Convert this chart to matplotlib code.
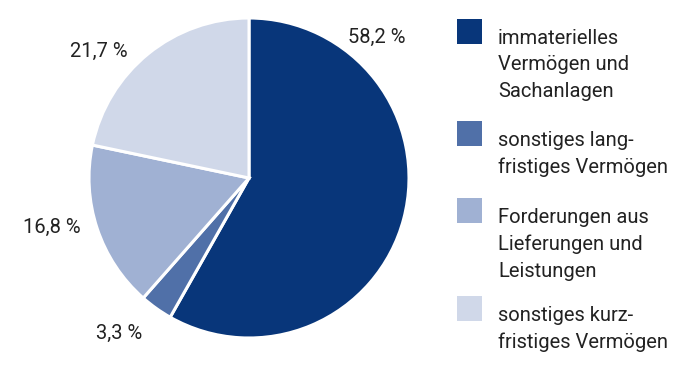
import matplotlib
matplotlib.use("Agg")

import matplotlib.pyplot as plt
from matplotlib.patches import Rectangle

# Data
categories = [
    "immaterielles\nVermögen und\nSachanlagen",
    "sonstiges lang-\nfristiges Vermögen",
    "Forderungen aus\nLieferungen und\nLeistungen",
    "sonstiges kurz-\nfristiges Vermögen",
]
shares = [58.2, 3.3, 16.8, 21.7]
value_labels = ["58,2 %", "3,3 %", "16,8 %", "21,7 %"]
colors = ["#08367a", "#5070a8", "#a0b1d3", "#d0d8e9"]

# Layout (label positions in units of the pie radius)
label_xy = [(0.80, 0.88), (-0.81, -0.97), (-1.23, -0.31), (-0.94, 0.79)]
legend_tops = [19, 121, 198, 296]  # px from top

W, H = 685, 388
plt.rcParams["font.family"] = ["Roboto", "DejaVu Sans"]
text_color = "#222222"
fsize = 14.5

fig = plt.figure(figsize=(W / 100, H / 100), dpi=100)

cx, cy, r = 249, 178, 160
ax = fig.add_axes([(cx - r) / W, (H - cy - r) / H, 2 * r / W, 2 * r / H])
ax.pie(shares, colors=colors, startangle=90, counterclock=False, radius=1,
       wedgeprops=dict(edgecolor="white", linewidth=2.2))
ax.set_xlim(-1, 1)
ax.set_ylim(-1, 1)
ax.set_aspect("auto")
ax.axis("off")

for (x, y), lab in zip(label_xy, value_labels):
    ax.text(x, y, lab, ha="center", va="center", fontsize=fsize,
            color=text_color, clip_on=False)

# Legend drawn by hand
sq = 25
for top, lab, col in zip(legend_tops, categories, colors):
    fig.patches.append(Rectangle((457 / W, (H - top - sq) / H), sq / W, sq / H,
                                 transform=fig.transFigure, facecolor=col,
                                 edgecolor="none"))
    fig.text(498 / W, (H - top - 10) / H, lab, ha="left", va="top",
             fontsize=fsize, color=text_color, linespacing=1.5)

fig.savefig("out.png", dpi=100)
